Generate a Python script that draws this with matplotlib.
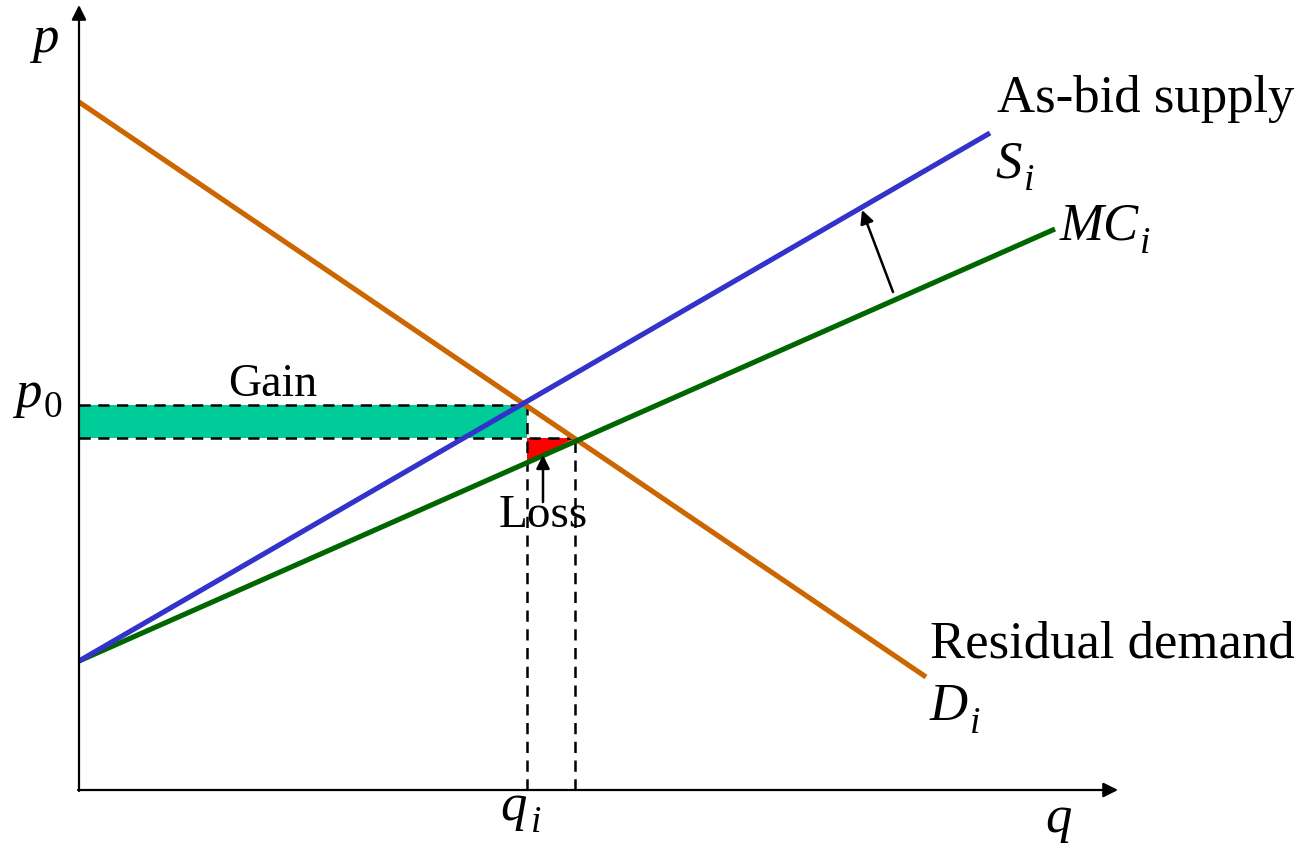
import numpy as np
import matplotlib
matplotlib.use("Agg")
import matplotlib.pyplot as plt

plt.rcParams['font.family'] = ['Liberation Serif', 'DejaVu Serif']

# line end points (q, p)
supply_q = [0.0, 9.11]
supply_p = [1.29, 6.57]
mc_q = [0.0, 9.76]
mc_p = [1.29, 5.61]
demand_q = [0.0, 8.47]
demand_p = [6.88, 1.13]

# equilibrium levels
p0 = 3.85      # as-bid price
p1 = 3.52      # competitive price
q_i = 4.48     # as-bid quantity
q_c = 4.96     # competitive quantity

q_max = 10.39
p_max = 7.85

c_demand = '#CC6600'
c_supply = '#3333CC'
c_mc = '#006600'
c_gain = '#00CC99'
c_loss = '#FF0000'

fig = plt.figure(figsize=(13.07, 8.49), dpi=100)
ax = fig.add_axes([0, 0, 1, 1])
ax.set_xlim(-0.79, 12.28)
ax.set_ylim(-0.59, 7.90)
ax.axis('off')

# gain rectangle and loss triangle
ax.fill_between([0, q_i], p1, p0, color=c_gain, lw=0, zorder=1)
mc_at_qi = np.interp(q_i, mc_q, mc_p)
ax.fill([q_i, q_c, q_i], [p1, p1, mc_at_qi], color=c_loss, lw=0, zorder=1)

# dashed guides
dash = dict(color='black', lw=1.8, ls=(0, (4.5, 3)), zorder=2)
ax.plot([0, q_i], [p0, p0], **dash)
ax.plot([0, q_c], [p1, p1], **dash)
ax.plot([q_i, q_i], [0, p0], **dash)
ax.plot([q_c, q_c], [0, p1], **dash)

# curves
ax.plot(demand_q, demand_p, color=c_demand, lw=3.7, solid_capstyle='butt', zorder=3)
ax.plot(mc_q, mc_p, color=c_mc, lw=3.7, solid_capstyle='butt', zorder=3)
ax.plot(supply_q, supply_p, color=c_supply, lw=3.7, solid_capstyle='butt', zorder=4)

# axes with arrowheads
ax_arrow = dict(arrowstyle='-|>', lw=1.6, color='black', mutation_scale=22, shrinkA=0, shrinkB=0)
ax.annotate('', xy=(q_max, 0), xytext=(-0.01, 0), arrowprops=ax_arrow, zorder=5)
ax.annotate('', xy=(0, p_max), xytext=(0, -0.01), arrowprops=ax_arrow, zorder=5)

# pointer arrows
ptr = dict(arrowstyle='-|>', lw=1.8, color='black', mutation_scale=20, shrinkA=0, shrinkB=0)
ax.annotate('', xy=(7.83, 5.80), xytext=(8.14, 4.98), arrowprops=ptr, zorder=5)
ax.annotate('', xy=(4.64, 3.35), xytext=(4.64, 2.88), arrowprops=ptr, zorder=5)

# labels
fs = 38
fs_sub = 27


def label(x, y, main, sub=None, sx=0.0, sy=0.0, italic_sub=True):
    ax.text(x, y, main, fontsize=fs, va='baseline', ha='left', style='italic')
    if sub is not None:
        ax.text(x + sx, y + sy, sub, fontsize=fs_sub, va='baseline', ha='left',
                style='italic' if italic_sub else 'normal')


label(-0.47, 7.38, 'p')
label(-0.64, 3.83, 'p', '0', 0.29, -0.10, italic_sub=False)
label(9.66, -0.42, 'q')
label(4.21, -0.30, 'q', 'i', 0.31, -0.12)
label(9.16, 6.13, 'S', 'i', 0.29, -0.13)
label(9.81, 5.51, 'MC', 'i', 0.80, -0.14)
label(8.51, 0.70, 'D', 'i', 0.40, -0.13)

ax.text(9.18, 6.78, 'As-bid supply', fontsize=fs, va='baseline', ha='left')
ax.text(8.51, 1.33, 'Residual demand', fontsize=fs, va='baseline', ha='left')
ax.text(1.94, 3.94, 'Gain', fontsize=33, va='baseline', ha='center')
ax.text(4.64, 2.63, 'Loss', fontsize=34, va='baseline', ha='center')

fig.savefig('out.png', dpi=100)
